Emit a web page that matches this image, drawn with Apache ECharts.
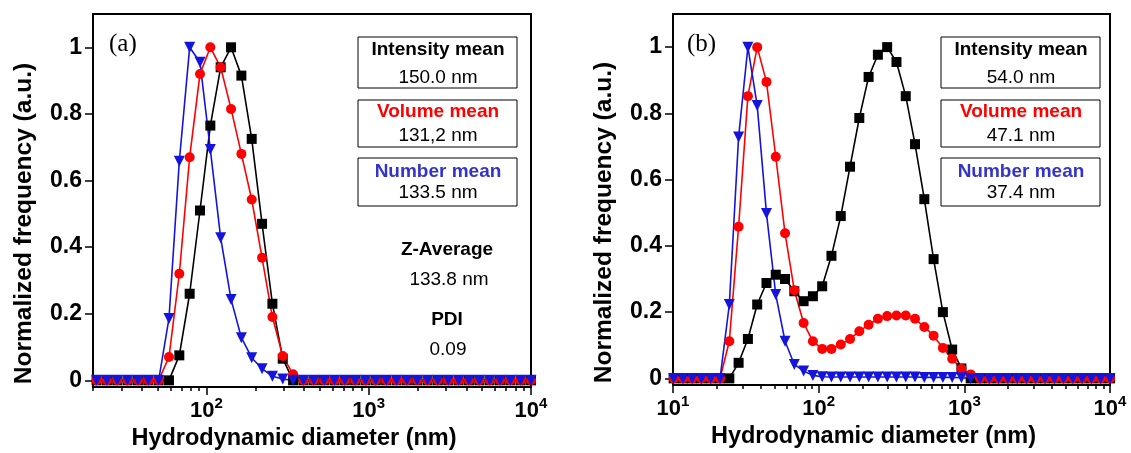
<!DOCTYPE html>
<html>
<head>
<meta charset="utf-8">
<script src="https://cdn.jsdelivr.net/npm/echarts@6/dist/echarts.min.js"></script>
<style>
  html, body { margin: 0; padding: 0; background: #fff; }
  #chart { width: 1131px; height: 453px; }
</style>
</head>
<body>
<div id="chart"></div>
<script>
// DLS size classes (nm) shown in panel (a)
const diamA = [21.04, 24.36, 28.21, 32.67, 37.84, 43.82, 50.75, 58.77, 68.06, 78.82,
  91.28, 105.7, 122.4, 141.8, 164.2, 190.1, 220.2, 255.0, 295.3, 342.0,
  396.1, 458.7, 531.2, 615.1, 712.4, 825.0, 955.4, 1106, 1281, 1484,
  1718, 1990, 2305, 2669, 3091, 3580, 4145, 4801, 5560, 6439,
  7456, 8635, 10000];
const intensityA = [0, 0, 0, 0, 0, 0, 0, 0, 0.075, 0.26,
  0.51, 0.765, 0.94, 1.0, 0.915, 0.725, 0.47, 0.23, 0.065, 0,
  0, 0, 0, 0, 0, 0, 0, 0, 0, 0,
  0, 0, 0, 0, 0, 0, 0, 0, 0, 0,
  0, 0, 0];
const volumeA = [0, 0, 0, 0, 0, 0, 0, 0.07, 0.32, 0.67,
  0.92, 1.0, 0.94, 0.815, 0.68, 0.543, 0.368, 0.19, 0.073, 0.018,
  0, 0, 0, 0, 0, 0, 0, 0, 0, 0,
  0, 0, 0, 0, 0, 0, 0, 0, 0, 0,
  0, 0, 0];
const numberA = [0, 0, 0, 0, 0, 0, 0, 0.186, 0.658, 1.0,
  0.955, 0.693, 0.428, 0.243, 0.128, 0.068, 0.035, 0.012, 0.004, 0,
  0, 0, 0, 0, 0, 0, 0, 0, 0, 0,
  0, 0, 0, 0, 0, 0, 0, 0, 0, 0,
  0, 0, 0];

// DLS size classes (nm) shown in panel (b)
const diamB = [10.10, 11.70, 13.54, 15.69, 18.17, 21.04, 24.36, 28.21, 32.67, 37.84,
  43.82, 50.75, 58.77, 68.06, 78.82, 91.28, 105.7, 122.4, 141.8, 164.2,
  190.1, 220.2, 255.0, 295.3, 342.0, 396.1, 458.7, 531.2, 615.1, 712.4,
  825.0, 955.4, 1106, 1281, 1484, 1718, 1990, 2305, 2669, 3091,
  3580, 4145, 4801, 5560, 6439, 7456, 8635, 10000];
const intensityB = [0, 0, 0, 0, 0, 0, 0, 0.047, 0.119, 0.223,
  0.288, 0.313, 0.30, 0.263, 0.233, 0.248, 0.278, 0.37, 0.49, 0.639,
  0.786, 0.91, 0.977, 1.0, 0.955, 0.852, 0.707, 0.541, 0.36, 0.2,
  0.087, 0.03, 0, 0, 0, 0, 0, 0, 0, 0,
  0, 0, 0, 0, 0, 0, 0, 0];
const volumeB = [0, 0, 0, 0, 0, 0, 0.112, 0.458, 0.852, 1.0,
  0.895, 0.669, 0.438, 0.266, 0.167, 0.112, 0.089, 0.089, 0.102, 0.119,
  0.142, 0.162, 0.18, 0.188, 0.19, 0.19, 0.18, 0.155, 0.129, 0.092,
  0.059, 0.029, 0.012, 0, 0, 0, 0, 0, 0, 0,
  0, 0, 0, 0, 0, 0, 0, 0];
const numberB = [0, 0, 0, 0, 0, 0, 0.223, 0.729, 1.0, 0.824,
  0.498, 0.253, 0.112, 0.042, 0.022, 0.009, 0.005, 0.004, 0.004, 0.004,
  0.004, 0.004, 0.004, 0.004, 0.004, 0.004, 0.004, 0.003, 0.003, 0.003,
  0.003, 0.002, 0, 0, 0, 0, 0, 0, 0, 0,
  0, 0, 0, 0, 0, 0, 0, 0];

// Axis ticks
const majorTicksA = [100, 1000, 10000];
const majorTicksB = [10, 100, 1000, 10000];
const minorTicks = [20, 30, 40, 50, 60, 70, 80, 90,
  200, 300, 400, 500, 600, 700, 800, 900,
  2000, 3000, 4000, 5000, 6000, 7000, 8000, 9000];
const yTicks = [0, 0.2, 0.4, 0.6, 0.8, 1];

// Summary boxes
const statNames = ['Intensity mean', 'Volume mean', 'Number mean'];
const statColors = ['#000000', '#ff0000', '#3434c8'];
const statsA = ['150.0 nm', '131,2 nm', '133.5 nm'];
const statsB = ['54.0 nm', '47.1 nm', '37.4 nm'];
const zAverageA = ['Z-Average', '133.8 nm', 'PDI', '0.09'];

const SANS = '"Liberation Sans", Arial, sans-serif';
const SERIF = '"Liberation Serif", "Times New Roman", serif';
const BLACK = '#000000', RED = '#ff0000', BLUE = '#1414dc';

const chart = echarts.init(document.getElementById('chart'), null, { renderer: 'canvas' });

function xMain(grid, min, ticks) {
  return {
    type: 'log', gridIndex: grid, min: min, max: 10000, logBase: 10, position: 'bottom',
    name: 'Hydrodynamic diameter (nm)', nameLocation: 'middle', nameGap: 40,
    nameTextStyle: { fontFamily: SANS, fontWeight: 700, fontSize: 23.5, color: BLACK, padding: [0, 36, 0, 0] },
    axisLine: { show: true, onZero: false, lineStyle: { color: BLACK, width: 2 } },
    axisTick: { show: true, inside: false, length: 8, customValues: ticks, lineStyle: { color: BLACK, width: 1.5 } },
    axisLabel: {
      show: true, margin: 11, customValues: ticks, color: BLACK,
      formatter: v => '{b|10}{s|' + Math.round(Math.log10(v)) + '}',
      rich: {
        b: { fontFamily: SANS, fontWeight: 700, fontSize: 22, color: BLACK, verticalAlign: 'bottom', lineHeight: 24 },
        s: { fontFamily: SANS, fontWeight: 700, fontSize: 15, color: BLACK, verticalAlign: 'bottom', lineHeight: 15, padding: [0, 0, 11, 0] }
      }
    },
    splitLine: { show: false }, minorTick: { show: false }, minorSplitLine: { show: false }
  };
}
function xMinor(grid, min) {
  return {
    type: 'log', gridIndex: grid, min: min, max: 10000, logBase: 10, position: 'bottom',
    axisLine: { show: false, onZero: false },
    axisTick: { show: true, inside: false, length: 4, customValues: minorTicks, lineStyle: { color: BLACK, width: 1.5 } },
    axisLabel: { show: false },
    splitLine: { show: false }
  };
}
function yAxis(grid) {
  return {
    type: 'value', gridIndex: grid, min: -0.02, max: 1.1, position: 'left',
    name: 'Normalized frequency (a.u.)', nameLocation: 'middle', nameGap: 56, nameRotate: 90,
    nameTextStyle: { fontFamily: SANS, fontWeight: 700, fontSize: 24.5, color: BLACK, padding: [0, 46, 0, 0] },
    axisLine: { show: true, onZero: false, lineStyle: { color: BLACK, width: 2 } },
    axisTick: { show: true, inside: false, length: 8, customValues: yTicks, lineStyle: { color: BLACK, width: 1.5 } },
    axisLabel: { show: true, margin: 11, customValues: yTicks, fontFamily: SANS, fontWeight: 700, fontSize: 23, color: BLACK,
      formatter: v => String(+v.toFixed(1)) },
    splitLine: { show: false }
  };
}
function lineSeries(xi, yi, diam, vals, color, symbol, size, rotate) {
  return {
    type: 'line', xAxisIndex: xi, yAxisIndex: yi,
    data: diam.map((d, i) => [d, vals[i]]),
    symbol: symbol, symbolSize: size, symbolRotate: rotate || 0,
    showSymbol: true, showAllSymbol: true, clip: true,
    lineStyle: { color: color, width: 1.6 },
    itemStyle: { color: color, borderWidth: 0 },
    emphasis: { disabled: true }, animation: false
  };
}

// Boxes with the mean diameters
function statBoxes(x, values) {
  const tops = [37, 100, 158], heights = [51, 47, 48];
  const labelY = [50, 111.5, 171.5], valueY = [78, 135.5, 193];
  const els = [];
  values.forEach((val, i) => {
    els.push({ type: 'rect', shape: { x: x, y: tops[i], width: 159, height: heights[i] },
      style: { fill: '#ffffff', stroke: BLACK, lineWidth: 1 }, z: 10 });
    els.push({ type: 'text', x: x + 80, y: labelY[i], z: 11,
      style: { text: statNames[i], fill: statColors[i], font: 'bold 19px ' + SANS, align: 'center', verticalAlign: 'middle' } });
    els.push({ type: 'text', x: x + 80, y: valueY[i], z: 11,
      style: { text: val, fill: BLACK, font: '19px ' + SANS, align: 'center', verticalAlign: 'middle' } });
  });
  return els;
}

const graphics = [].concat(
  statBoxes(358, statsA),
  statBoxes(941, statsB),
  [
    { type: 'text', x: 109, y: 44, z: 11, style: { text: '(a)', fill: BLACK, font: '25px ' + SERIF, align: 'left', verticalAlign: 'middle' } },
    { type: 'text', x: 687, y: 44, z: 11, style: { text: '(b)', fill: BLACK, font: '25px ' + SERIF, align: 'left', verticalAlign: 'middle' } },
    { type: 'text', x: 447, y: 250, z: 11, style: { text: zAverageA[0], fill: BLACK, font: 'bold 19px ' + SANS, align: 'center', verticalAlign: 'middle' } },
    { type: 'text', x: 449, y: 280, z: 11, style: { text: zAverageA[1], fill: BLACK, font: '19px ' + SANS, align: 'center', verticalAlign: 'middle' } },
    { type: 'text', x: 447, y: 320, z: 11, style: { text: zAverageA[2], fill: BLACK, font: 'bold 19px ' + SANS, align: 'center', verticalAlign: 'middle' } },
    { type: 'text', x: 448, y: 350, z: 11, style: { text: zAverageA[3], fill: BLACK, font: '19px ' + SANS, align: 'center', verticalAlign: 'middle' } }
  ]
);

const option = {
  backgroundColor: '#ffffff',
  animation: false,
  grid: [
    { left: 93, top: 14, width: 438, height: 373, show: true, borderColor: BLACK, borderWidth: 2,
      backgroundColor: 'transparent', containLabel: false, outerBoundsMode: 'none' },
    { left: 673, top: 14, width: 437, height: 371, show: true, borderColor: BLACK, borderWidth: 2,
      backgroundColor: 'transparent', containLabel: false, outerBoundsMode: 'none' }
  ],
  xAxis: [xMain(0, 20, majorTicksA), xMinor(0, 20), xMain(1, 10, majorTicksB), xMinor(1, 10)],
  yAxis: [yAxis(0), yAxis(1)],
  series: [
    lineSeries(0, 0, diamA, intensityA, BLACK, 'rect', 10),
    lineSeries(0, 0, diamA, volumeA, RED, 'circle', 10),
    lineSeries(0, 0, diamA, numberA, BLUE, 'triangle', 11, 180),
    lineSeries(2, 1, diamB, intensityB, BLACK, 'rect', 10),
    lineSeries(2, 1, diamB, volumeB, RED, 'circle', 10),
    lineSeries(2, 1, diamB, numberB, BLUE, 'triangle', 11, 180)
  ],
  graphic: { elements: graphics }
};
chart.setOption(option);
</script>
</body>
</html>
